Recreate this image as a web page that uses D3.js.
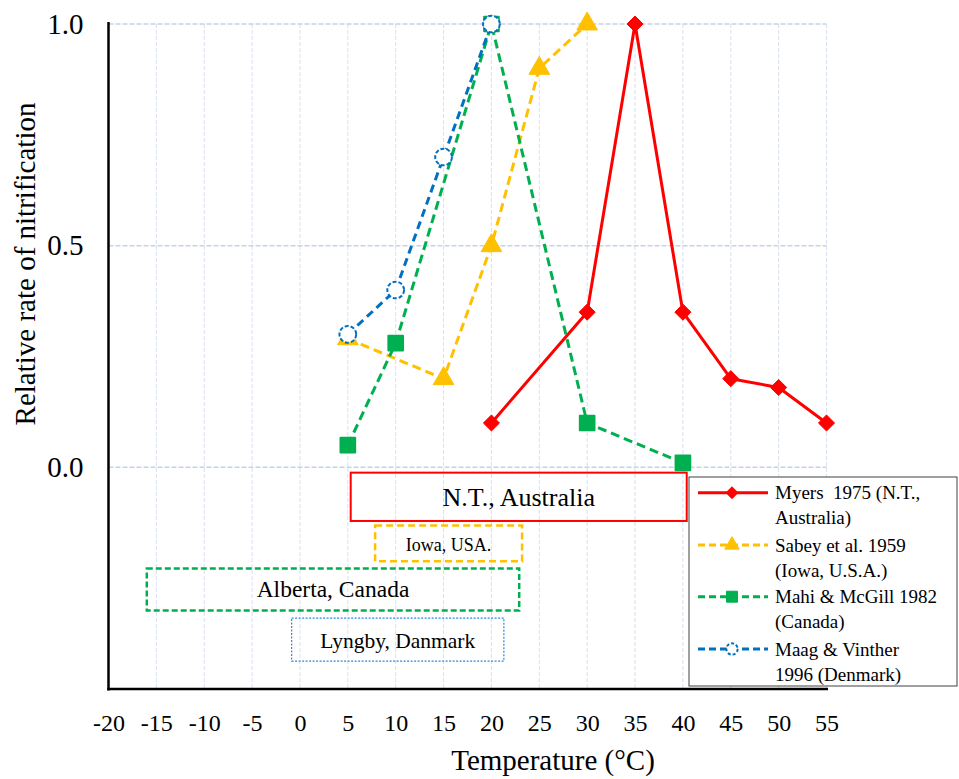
<!DOCTYPE html>
<html>
<head>
<meta charset="utf-8">
<script src="https://cdn.jsdelivr.net/npm/d3@7/dist/d3.min.js"></script>
<style>
  html, body { margin: 0; padding: 0; background: #fff; }
  svg { display: block; font-family: "Liberation Serif", "Times New Roman", serif; }
</style>
</head>
<body>
<svg id="chart" width="959" height="779"></svg>
<script>
// Temperature (°C) and relative nitrification rate for each study
const myersTemp  = [20, 30, 35, 40, 45, 50, 55];
const myersRate  = [0.10, 0.35, 1.0, 0.35, 0.20, 0.18, 0.10];
const sabeyTemp  = [5, 15, 20, 25, 30];
const sabeyRate  = [0.29, 0.20, 0.50, 0.90, 1.0];
const mahiTemp   = [5, 10, 20, 30, 40];
const mahiRate   = [0.05, 0.28, 1.0, 0.10, 0.01];
const maagTemp   = [5, 10, 15, 20];
const maagRate   = [0.30, 0.40, 0.70, 1.0];

const seriesNames = [
  ["Myers  1975 (N.T.,", "Australia)"],
  ["Sabey et al. 1959", "(Iowa, U.S.A.)"],
  ["Mahi & McGill 1982", "(Canada)"],
  ["Maag & Vinther", "1996 (Denmark)"]
];

const xTickValues = [-20, -15, -10, -5, 0, 5, 10, 15, 20, 25, 30, 35, 40, 45, 50, 55];
const yTickValues = [0, 0.5, 1.0];

// Site labels shown as boxes under the curves
const siteLabels = ["N.T., Australia", "Iowa, USA.", "Alberta, Canada", "Lyngby, Danmark"];

// ---- layout and styling ----
const svg = d3.select("#chart");
const x = d3.scaleLinear().domain([-20, 55]).range([108.5, 826.5]);
const y = d3.scaleLinear().domain([-0.5, 1.0]).range([689, 24]);

const styles = [
  { color: "#FF0000", dash: null,   legendDash: null,  symbol: d3.symbolDiamond2, size: 165, fill: "#FF0000", width: 3 },
  { color: "#FFC000", dash: "9,5",  legendDash: "7,4", symbol: d3.symbolTriangle, size: 185, fill: "#FFC000", width: 3 },
  { color: "#00B050", dash: "9,5",  legendDash: "7,4", symbol: d3.symbolSquare,   size: 215, fill: "#00B050", width: 3 },
  { color: "#0070C0", dash: "8,5",  legendDash: "7,4", symbol: d3.symbolCircle,   size: 220, fill: "#FFFFFF", width: 3 }
];

const seriesData = [
  myersTemp.map((t, i) => ({ t, r: myersRate[i] })),
  sabeyTemp.map((t, i) => ({ t, r: sabeyRate[i] })),
  mahiTemp.map((t, i) => ({ t, r: mahiRate[i] })),
  maagTemp.map((t, i) => ({ t, r: maagRate[i] }))
];

// Box extents in data units: [x0, x1, yTop, yBottom]
const siteBoxes = [
  { ext: [5.3, 40.4, -0.012, -0.121], stroke: "#FF0000", dash: null,  sw: 2,   font: 26, baseline: -0.088 },
  { ext: [7.85, 23.2, -0.131, -0.212], stroke: "#FFC000", dash: "7,4", sw: 2.5, font: 18, baseline: -0.188 },
  { ext: [-16.0, 22.9, -0.228, -0.323], stroke: "#00B050", dash: "6,3", sw: 2.5, font: 23.5, baseline: -0.292 },
  { ext: [-0.87, 21.3, -0.340, -0.437], stroke: "#2E86D6", dash: "2,1.5", sw: 1.2, font: 21.5, baseline: -0.408 }
];

// Grid lines
const grid = svg.append("g");
grid.selectAll("line.v")
  .data(xTickValues.filter(v => v > -20))
  .join("line")
  .attr("x1", d => x(d)).attr("x2", d => x(d))
  .attr("y1", y(1.0)).attr("y2", y(-0.5))
  .attr("stroke", "#D6E0EE").attr("stroke-width", 1).attr("stroke-dasharray", "4,2");
grid.selectAll("line.h")
  .data(yTickValues)
  .join("line")
  .attr("x1", x(-20)).attr("x2", x(55))
  .attr("y1", d => y(d)).attr("y2", d => y(d))
  .attr("stroke", "#C3D3E8").attr("stroke-width", 1.5).attr("stroke-dasharray", "5,2");

// Axes lines
svg.append("line")
  .attr("x1", x(-20)).attr("x2", x(-20))
  .attr("y1", y(1.0) - 2).attr("y2", y(-0.5) + 1.5)
  .attr("stroke", "#000").attr("stroke-width", 2.5);
svg.append("line")
  .attr("x1", x(-20) - 1.2).attr("x2", x(55) + 1.5)
  .attr("y1", y(-0.5)).attr("y2", y(-0.5))
  .attr("stroke", "#000").attr("stroke-width", 2.5);

// Axis tick labels via d3 axes (domain and tick marks hidden)
const xAxis = svg.append("g")
  .attr("transform", `translate(0,${y(-0.5)})`)
  .call(d3.axisBottom(x).tickValues(xTickValues).tickSize(0).tickPadding(25).tickFormat(d => String(d)));
xAxis.select(".domain").remove();
xAxis.selectAll("text")
  .attr("font-family", "Liberation Serif, Times New Roman, serif")
  .attr("font-size", 24).attr("fill", "#000");

const yAxis = svg.append("g")
  .attr("transform", `translate(${x(-20)},0)`)
  .call(d3.axisLeft(y).tickValues(yTickValues).tickSize(0).tickPadding(25).tickFormat(d3.format(".1f")));
yAxis.select(".domain").remove();
yAxis.selectAll("text")
  .attr("font-family", "Liberation Serif, Times New Roman, serif")
  .attr("font-size", 29).attr("fill", "#000");

// Axis titles
svg.append("text")
  .attr("x", 553).attr("y", 770)
  .attr("text-anchor", "middle").attr("font-size", 29)
  .text("Temperature (°C)");
svg.append("text")
  .attr("transform", "translate(35,264) rotate(-90)")
  .attr("text-anchor", "middle").attr("font-size", 29)
  .text("Relative rate of nitrification");

// Site boxes
siteBoxes.forEach((b, i) => {
  const [x0, x1, yt, yb] = b.ext;
  svg.append("rect")
    .attr("x", x(x0)).attr("y", y(yt))
    .attr("width", x(x1) - x(x0)).attr("height", y(yb) - y(yt))
    .attr("fill", "none").attr("stroke", b.stroke).attr("stroke-width", b.sw)
    .attr("stroke-dasharray", b.dash);
  svg.append("text")
    .attr("x", (x(x0) + x(x1)) / 2).attr("y", y(b.baseline))
    .attr("text-anchor", "middle").attr("font-size", b.font)
    .text(siteLabels[i]);
});

// Series lines and markers
const line = d3.line().x(d => x(d.t)).y(d => y(d.r));
const order = [0, 1, 2, 3];
order.forEach(i => {
  const s = styles[i];
  svg.append("path")
    .datum(seriesData[i])
    .attr("d", line)
    .attr("fill", "none").attr("stroke", s.color).attr("stroke-width", s.width)
    .attr("stroke-dasharray", s.dash).attr("stroke-linejoin", "round");
});
order.forEach(i => {
  const s = styles[i];
  const sym = d3.symbol().type(s.symbol).size(s.size);
  svg.append("g").selectAll("path")
    .data(seriesData[i])
    .join("path")
    .attr("transform", d => `translate(${x(d.t)},${y(d.r)})`)
    .attr("d", sym)
    .attr("fill", s.fill)
    .attr("stroke", s.color)
    .attr("stroke-width", i === 3 ? 2 : (i === 2 ? 2 : 1))
    .attr("stroke-dasharray", i === 3 ? "4,2" : null)
    .attr("stroke-linejoin", "round");
});

// Legend
const lg = svg.append("g");
lg.append("rect")
  .attr("x", 689).attr("y", 477).attr("width", 268).attr("height", 209)
  .attr("fill", "#fff").attr("stroke", "#404040").attr("stroke-width", 1);
const entryY = [492.7, 545, 596.7, 649];
const legendSizes = [90, 90, 120, 100];
seriesNames.forEach((name, i) => {
  const s = styles[i];
  const cy = entryY[i];
  lg.append("line")
    .attr("x1", 698).attr("x2", 768).attr("y1", cy).attr("y2", cy)
    .attr("stroke", s.color).attr("stroke-width", 3)
    .attr("stroke-dasharray", s.legendDash);
  lg.append("path")
    .attr("transform", `translate(732,${cy})`)
    .attr("d", d3.symbol().type(s.symbol).size(legendSizes[i]))
    .attr("fill", s.fill).attr("stroke", s.color)
    .attr("stroke-width", i === 3 ? 2 : 1)
    .attr("stroke-linejoin", "round")
    .attr("stroke-dasharray", i === 3 ? "3,2" : null);
  const t = lg.append("text")
    .attr("x", 775).attr("y", cy + 6.5)
    .attr("font-size", 19).attr("xml:space", "preserve");
  t.append("tspan").attr("x", 775).text(name[0]);
  t.append("tspan").attr("x", 775).attr("dy", 25).text(name[1]);
});
</script>
</body>
</html>
